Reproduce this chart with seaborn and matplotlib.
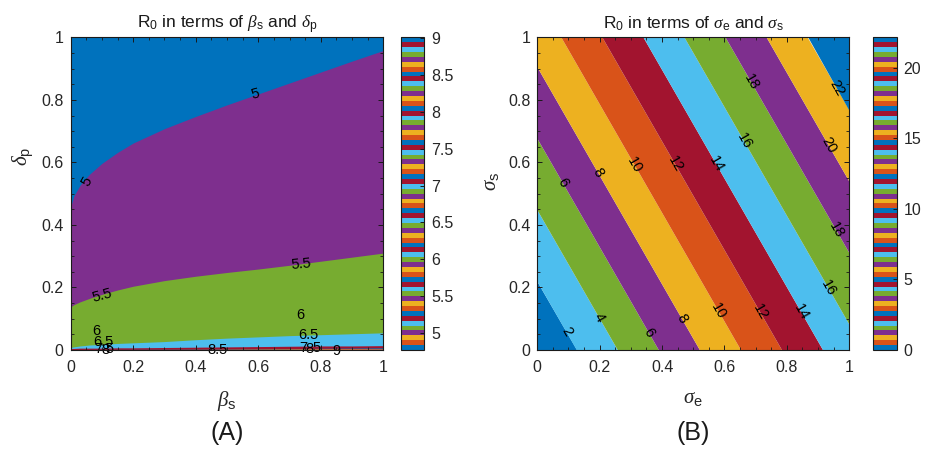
import numpy as np
import matplotlib.pyplot as plt
import seaborn as sns
from matplotlib.colors import ListedColormap, Normalize
from matplotlib.cm import ScalarMappable

# MATLAB "lines" colours, in colormap order
blue, orange, yellow, purple, green, lightblue, darkred = (
    '#0072BD', '#D95319', '#EDB120', '#7E2F8E', '#77AC30', '#4DBEEE', '#A2142F')
line_colors = [blue, orange, yellow, purple, green, lightblue, darkred]

# ---- panel A: delta_p where each R0 contour crosses, along beta_s ----
beta_s = [0, 0.01, 0.03, 0.06, 0.1, 0.15, 0.2, 0.3, 0.4, 0.5, 0.6, 0.7, 0.8, 0.9, 1.0]
dp_r5 = [0.458, 0.492, 0.527, 0.562, 0.597, 0.632, 0.662, 0.708, 0.747, 0.784, 0.819, 0.854, 0.889, 0.924, 0.958]
dp_r5_5 = [0.138, 0.145, 0.154, 0.165, 0.178, 0.192, 0.204, 0.222, 0.236, 0.248, 0.259, 0.271, 0.284, 0.297, 0.310]
dp_r6 = [0.008, 0.010, 0.013, 0.016, 0.018, 0.021, 0.023, 0.027, 0.033, 0.038, 0.042, 0.046, 0.049, 0.052, 0.055]
dp_r6_5 = [0.005, 0.005, 0.006, 0.006, 0.006, 0.007, 0.007, 0.008, 0.009, 0.010, 0.011, 0.012, 0.013, 0.013, 0.014]
dp_r7 = [0.0015, 0.0016, 0.0017, 0.0018, 0.0019, 0.002, 0.0022, 0.0025, 0.0028, 0.003, 0.0036, 0.0045, 0.0055, 0.0062, 0.007]
dp_r7_5 = [0.0012, 0.0012, 0.0013, 0.0014, 0.0015, 0.0016, 0.0017, 0.002, 0.0022, 0.0024, 0.0028, 0.0034, 0.004, 0.0045, 0.005]
dp_r8 = [0.0009, 0.0009, 0.001, 0.001, 0.0011, 0.0012, 0.0013, 0.0015, 0.0017, 0.0019, 0.0022, 0.0026, 0.003, 0.0035, 0.004]
dp_r8_5 = [0.0005, 0.0005, 0.0006, 0.0006, 0.0007, 0.0008, 0.0009, 0.001, 0.0012, 0.0014, 0.0016, 0.0019, 0.0022, 0.0026, 0.003]
dp_r9 = [0, 0, 0, 0, 0, 0, 0, 0, 0, 0, 0.0003, 0.0008, 0.0012, 0.0016, 0.002]

# bands from top down: (upper edge of band, colour)
bands_a = [(dp_r5, purple), (dp_r5_5, green), (dp_r6, lightblue), (dp_r6_5, darkred),
           (dp_r7, blue), (dp_r7_5, orange), (dp_r8, yellow), (dp_r8_5, purple), (dp_r9, blue)]
cbar_a_range = (4.77, 9.01)
cbar_a_ticks = [5, 5.5, 6, 6.5, 7, 7.5, 8, 8.5, 9]

# ---- panel B: R0 is linear in sigma_e and sigma_s, corner values ----
sigma_e = [0.0, 1.0]
sigma_s = [0.0, 1.0]
r0_b = [[0.08, 15.28],
        [8.83, 24.03]]  # rows: sigma_s, cols: sigma_e
levels_b = [0, 2, 4, 6, 8, 10, 12, 14, 16, 18, 20, 22, 25]
colors_b = [blue, lightblue, green, purple, yellow, orange, darkred,
            lightblue, green, purple, yellow, blue]
cbar_b_range = (0, 22.17)
cbar_b_ticks = [0, 5, 10, 15, 20]

sns.set_theme(style='white')
plt.rcParams['font.family'] = ['Liberation Sans', 'DejaVu Sans']
plt.rcParams['mathtext.fontset'] = 'custom'
plt.rcParams['mathtext.rm'] = 'Liberation Sans'
plt.rcParams['mathtext.it'] = 'Liberation Serif:italic'
plt.rcParams['axes.edgecolor'] = '0.1'
plt.rcParams['axes.linewidth'] = 0.8
plt.rcParams['axes.axisbelow'] = False   # inward ticks must sit above the fills
plt.rcParams['text.color'] = '0.1'
plt.rcParams['xtick.color'] = '0.15'
plt.rcParams['ytick.color'] = '0.15'

# 64-entry cycled colormap like MATLAB lines(64)
stripes = ListedColormap([line_colors[i % 7] for i in range(64)])

fig = plt.figure(figsize=(9.31, 4.5), dpi=100)
ax_a = fig.add_axes([0.0759, 0.2222, 0.3358, 0.6948])
cax_a = fig.add_axes([0.4307, 0.2222, 0.0247, 0.6948])
ax_b = fig.add_axes([0.5771, 0.2222, 0.3351, 0.6948])
cax_b = fig.add_axes([0.9380, 0.2222, 0.0252, 0.6948])


def style_axes(ax):
    ax.set_axisbelow(False)
    ax.set_xlim(0, 1)
    ax.set_ylim(0, 1)
    ax.set_xticks([0, 0.2, 0.4, 0.6, 0.8, 1])
    ax.set_yticks([0, 0.2, 0.4, 0.6, 0.8, 1])
    ax.set_xticklabels(['0', '0.2', '0.4', '0.6', '0.8', '1'])
    ax.set_yticklabels(['0', '0.2', '0.4', '0.6', '0.8', '1'])
    ax.set_xticks(np.arange(0, 1.001, 0.05), minor=True)
    ax.set_yticks(np.arange(0, 1.001, 0.05), minor=True)
    ax.tick_params(which='both', direction='in', bottom=True, left=True,
                   top=True, right=True, labelsize=11.5, color='0.1')
    ax.tick_params(which='major', length=3.5, width=0.7)
    ax.tick_params(which='minor', length=2, width=0.6)
    ax.tick_params(axis='x', pad=7)
    ax.tick_params(axis='y', pad=5)
    for s in ax.spines.values():
        s.set_visible(True)
        s.set_zorder(5)


# panel A
ax_a.fill_between([0, 1], 0, 1, color=blue, lw=0)
for upper, col in bands_a:
    ax_a.fill_between(beta_s, 0, upper, color=col, lw=0)

labels_a = [('5', 0.592, 0.818, 15), ('5', 0.051, 0.538, 60),
            ('5.5', 0.737, 0.275, 5), ('5.5', 0.10, 0.175, 15),
            ('6', 0.733, 0.112, 0), ('6', 0.083, 0.06, 0),
            ('6.5', 0.76, 0.048, 0), ('6.5', 0.105, 0.025, 0),
            ('7', 0.09, 0.004, 0), ('8', 0.11, 0.0, 0), ('5', 0.125, 0.004, 0),
            ('7', 0.745, 0.008, 0), ('8', 0.765, 0.004, 0), ('5', 0.785, 0.008, 0),
            ('8.5', 0.47, 0.0, 0), ('9', 0.85, -0.004, 0)]
for txt, x, y, rot in labels_a:
    ax_a.text(x, y, txt, fontsize=10.5, color='black', ha='center', va='center',
              rotation=rot, zorder=4)

style_axes(ax_a)
ax_a.set_title(r'R$_0$ in terms of $\beta_\mathrm{s}$ and $\delta_\mathrm{p}$', fontsize=12.5, pad=6)
ax_a.set_xlabel(r'$\beta_\mathrm{s}$', fontsize=15)
ax_a.set_ylabel(r'$\delta_\mathrm{p}$', fontsize=15)
ax_a.xaxis.set_label_coords(0.5, -0.125)
ax_a.yaxis.set_label_coords(-0.11, 0.62)

# panel B
X, Y = np.meshgrid(sigma_e, sigma_s)
Z = np.array(r0_b)
ax_b.contourf(X, Y, Z, levels=levels_b, colors=colors_b, antialiased=True)
cs = ax_b.contour(X, Y, Z, levels=levels_b[1:-1], colors='k', linewidths=0)
label_pos_b = [(0.094, 0.058), (0.196, 0.101), (0.359, 0.055), (0.463, 0.101),
               (0.58, 0.122), (0.719, 0.122), (0.847, 0.122), (0.933, 0.197),
               (0.96, 0.383), (0.933, 0.655), (0.96, 0.836),
               (0.078, 0.532), (0.19, 0.564), (0.308, 0.591), (0.436, 0.591),
               (0.57, 0.591), (0.66, 0.666), (0.687, 0.857)]
ax_b.clabel(cs, manual=label_pos_b, inline=False, fontsize=10.5, colors='black', fmt='%d')

style_axes(ax_b)
ax_b.set_title(r'R$_0$ in terms of $\sigma_\mathrm{e}$ and $\sigma_\mathrm{s}$', fontsize=12.5, pad=6)
ax_b.set_xlabel(r'$\sigma_\mathrm{e}$', fontsize=15)
ax_b.set_ylabel(r'$\sigma_\mathrm{s}$', fontsize=15)
ax_b.xaxis.set_label_coords(0.5, -0.125)
ax_b.yaxis.set_label_coords(-0.115, 0.54)

# colorbars
for cax, (lo, hi), ticks in [(cax_a, cbar_a_range, cbar_a_ticks),
                             (cax_b, cbar_b_range, cbar_b_ticks)]:
    sm = ScalarMappable(norm=Normalize(lo, hi), cmap=stripes)
    cb = fig.colorbar(sm, cax=cax, ticks=ticks)
    cb.ax.set_axisbelow(False)
    cb.ax.set_yticklabels([('%g' % t) for t in ticks])
    cb.ax.tick_params(direction='in', right=True, left=False, length=3, width=0.7,
                      labelsize=11.5, pad=5, color='0.1')
    cb.outline.set_edgecolor('0.1')
    cb.outline.set_linewidth(0.8)

fig.text(227 / 931, 1 - 433 / 450, '(A)', fontsize=18, ha='center', va='center')
fig.text(693 / 931, 1 - 433 / 450, '(B)', fontsize=18, ha='center', va='center')

fig.savefig('out.png', dpi=100)
